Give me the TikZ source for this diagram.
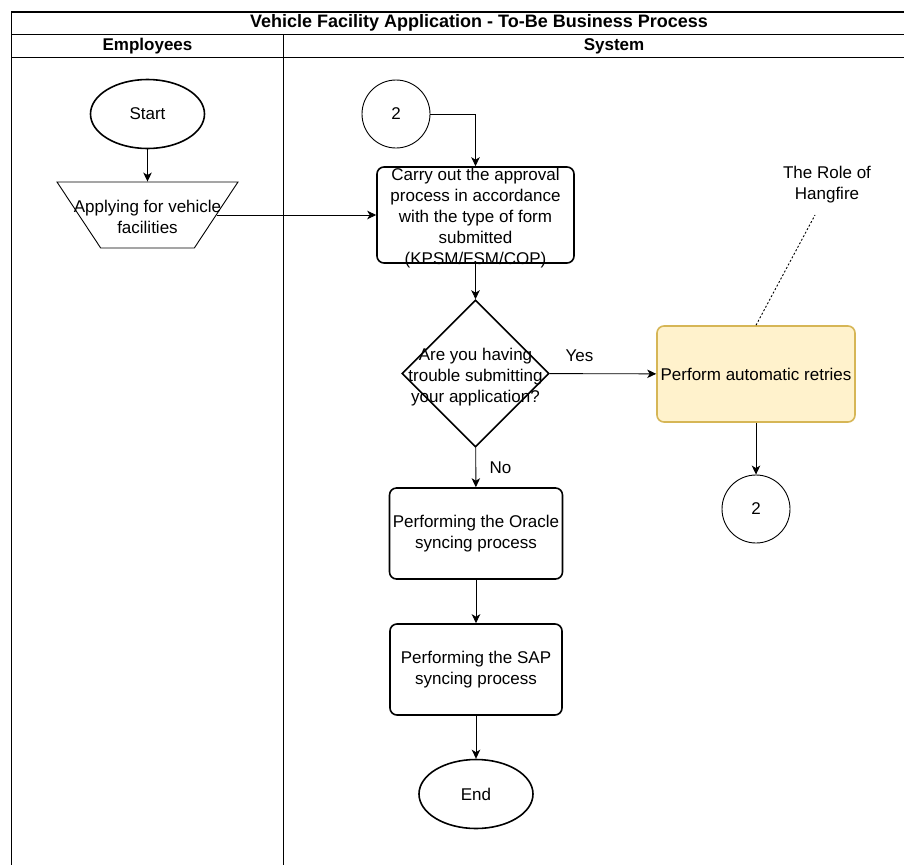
\documentclass[tikz,border=0pt]{standalone}
\usepackage{fontspec}
\setmainfont{Liberation Sans}
\usepackage{tikz}
\usetikzlibrary{arrows.meta, positioning, shapes.geometric}

\definecolor{retryfill}{HTML}{FFF2CC}
\definecolor{retryline}{HTML}{D6B656}

\begin{document}
\begin{tikzpicture}[
  x=1pt, y=-1pt,
  every node/.style={font=\fontsize{17}{21}\selectfont},
  lanehead/.style={font=\fontsize{17}{21}\selectfont\bfseries},
  terminal/.style={ellipse, draw, line width=1.6pt, minimum width=114pt, minimum height=69pt},
  procbox/.style={rectangle, draw, rounded corners=7pt, line width=1.6pt,
                  minimum width=172pt, minimum height=91pt, align=center},
  jumpcircle/.style={circle, draw, line width=0.9pt, minimum size=68pt, inner sep=0pt},
  decision/.style={diamond, draw, line width=1.6pt, minimum width=147pt,
                   minimum height=147pt, inner sep=2pt},
  inputbox/.style={trapezium, draw, line width=0.9pt, shape border rotate=180,
                   trapezium angle=65, trapezium stretches=true,
                   minimum width=181pt, minimum height=66pt, inner sep=2pt},
  flow/.style={-{Stealth[length=9pt, width=8.5pt, inset=2.5pt]}, line width=0.9pt},
]
  \clip (0,0) rectangle (904,865);

  % Pool and lanes
  \draw[line width=1.5pt] (946,12) -- (11.5,12) -- (11.5,865);
  \draw[line width=1pt] (11.5,34) -- (946,34);
  \draw[line width=1pt] (11.5,57) -- (946,57);
  \draw[line width=1pt] (283.5,34) -- (283.5,865);
  \node[lanehead, font=\fontsize{18}{21}\selectfont\bfseries] (title) at (479,23)
    {Vehicle Facility Application - To-Be Business Process};
  \node[lanehead] (laneEmp) at (147.5,46) {Employees};
  \node[lanehead] (laneSys) at (614,46)   {System};

  % Employees lane
  \node[terminal] (start) at (147.5,114) {Start};
  \node[inputbox, label={[align=center, yshift=-2pt]center:Applying for vehicle\\facilities}]
    (apply) at (147.5,215) {};

  % System lane
  \node[jumpcircle] (jumpTop)   at (396,114)   {2};
  \node[procbox, minimum width=197pt, minimum height=96pt,
        label={[align=center, yshift=-3pt]center:Carry out the approval\\process in accordance\\with the type of form\\submitted\\(KPSM/FSM/COP)}]
    (approve) at (475.5,215) {};
  \node[decision, label={[align=center, yshift=-4pt]center:Are you having\\trouble submitting\\your application?}]
    (ask) at (475.5,373.5) {};
  \node[procbox, fill=retryfill, draw=retryline, minimum width=198pt, minimum height=96pt]
    (retry) at (756,374) {Perform automatic retries};
  \node[jumpcircle] (jumpRight) at (756,509)   {2};
  \node[procbox] (oracle) at (476,533.5) {Performing the Oracle\\syncing process};
  \node[procbox] (sap)    at (476,669.5) {Performing the SAP\\syncing process};
  \node[terminal] (end)   at (476,794)   {End};

  % Hangfire note
  \node[align=center] (hangfire) at (827,185) {The Role of\\Hangfire};
  \coordinate (hangTip) at (815,215);

  % Flow
  \draw[flow] (start) -- (apply);
  \draw[flow] (apply) -- (approve);
  \draw[flow] (jumpTop) -| (approve);
  \draw[flow] (approve) -- (ask);
  \draw[flow] (ask) -- node[pos=0.28, above=8pt] {Yes} (retry);
  \draw[flow] (ask) -- node[right=10pt] {No} (oracle);
  \draw[flow] (retry) -- (jumpRight);
  \draw[flow] (oracle) -- (sap);
  \draw[flow] (sap) -- (end);
  \draw[line width=0.9pt, dash pattern=on 2pt off 2pt] (retry.north) -- (hangTip);
\end{tikzpicture}
\end{document}
